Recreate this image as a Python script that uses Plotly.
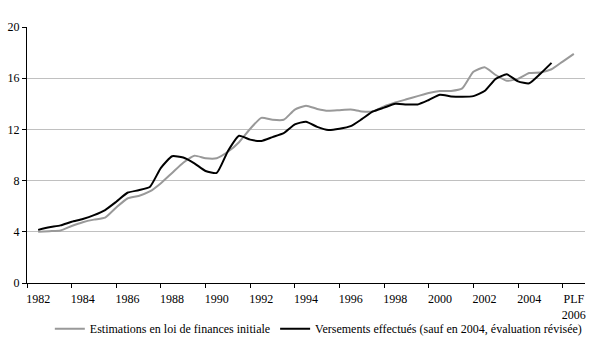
import plotly.graph_objects as go

# Half-yearly positions (1982 .. 2006, "PLF 2006" as last category)
t_est = [1982 + 0.5 * i for i in range(49)]
estimations = [
    4.0, 4.05, 4.1, 4.45, 4.75, 4.95, 5.1, 5.9, 6.6, 6.8,
    7.15, 7.8, 8.6, 9.4, 9.95, 9.75, 9.75, 10.25, 11.0, 12.05,
    12.9, 12.75, 12.75, 13.55, 13.85, 13.6, 13.45, 13.5, 13.55, 13.4,
    13.4, 13.8, 14.1, 14.35, 14.6, 14.85, 15.0, 15.0, 15.2, 16.5,
    16.85, 16.25, 15.8, 15.95, 16.4, 16.45, 16.7, 17.3, 17.9,
]
t_vers = [1982 + 0.5 * i for i in range(47)]
versements = [
    4.15, 4.35, 4.5, 4.78, 5.0, 5.3, 5.7, 6.35, 7.05, 7.25,
    7.5, 9.0, 9.9, 9.8, 9.35, 8.75, 8.6, 10.3, 11.5, 11.2,
    11.1, 11.4, 11.7, 12.4, 12.6, 12.2, 11.95, 12.05, 12.25, 12.8,
    13.4, 13.7, 14.0, 13.95, 13.95, 14.3, 14.7, 14.58, 14.55, 14.6,
    15.0, 15.95, 16.3, 15.75, 15.6, 16.35, 17.2,
]

label_years = [1982, 1984, 1986, 1988, 1990, 1992, 1994, 1996, 1998, 2000, 2002, 2004, 2006]
label_text = ["1982", "1984", "1986", "1988", "1990", "1992", "1994", "1996",
              "1998", "2000", "2002", "2004", "PLF<br>2006"]
y_ticks = [0, 4, 8, 12, 16, 20]

name_est = "Estimations en loi de finances initiale"
name_vers = "Versements effectués (sauf en 2004, évaluation révisée)"

font = dict(family="Liberation Serif, Times New Roman, serif", size=12, color="black")

fig = go.Figure()
fig.add_trace(go.Scatter(
    x=t_est, y=estimations, mode="lines", name=name_est,
    line=dict(color="#999999", width=2, shape="spline", smoothing=0.5),
))
fig.add_trace(go.Scatter(
    x=t_vers, y=versements, mode="lines", name=name_vers,
    line=dict(color="black", width=2, shape="spline", smoothing=0.5),
))

fig.update_layout(
    width=595, height=345,
    margin=dict(l=27, r=10, t=27, b=62, autoexpand=False),
    paper_bgcolor="white", plot_bgcolor="white",
    font=font,
    showlegend=True,
    legend=dict(
        orientation="h", xref="container", x=0.535, xanchor="center",
        yref="container", y=0.047, yanchor="middle",
        font=font, itemwidth=30, tracegroupgap=0, bgcolor="rgba(0,0,0,0)",
    ),
)
fig.update_xaxes(
    range=[1981.5, 2006.5], automargin=False,
    tickmode="array", tickvals=label_years, ticktext=label_text,
    ticks="outside", ticklen=5, tickcolor="rgba(0,0,0,0)",
    showline=True, linecolor="black", linewidth=1,
    showgrid=False, zeroline=False,
    minor=dict(tick0=1981.5, dtick=2, ticks="outside", ticklen=4,
               tickcolor="black", tickwidth=1, showgrid=False),
    tickfont=font,
)
fig.update_yaxes(
    range=[0, 20], automargin=False,
    tickmode="array", tickvals=y_ticks,
    ticks="outside", ticklen=4, tickcolor="black",
    showline=True, linecolor="black", linewidth=1,
    showgrid=True, gridcolor="#c0c0c0", gridwidth=1,
    zeroline=False, tickfont=font,
)

fig.write_html("out.html")
